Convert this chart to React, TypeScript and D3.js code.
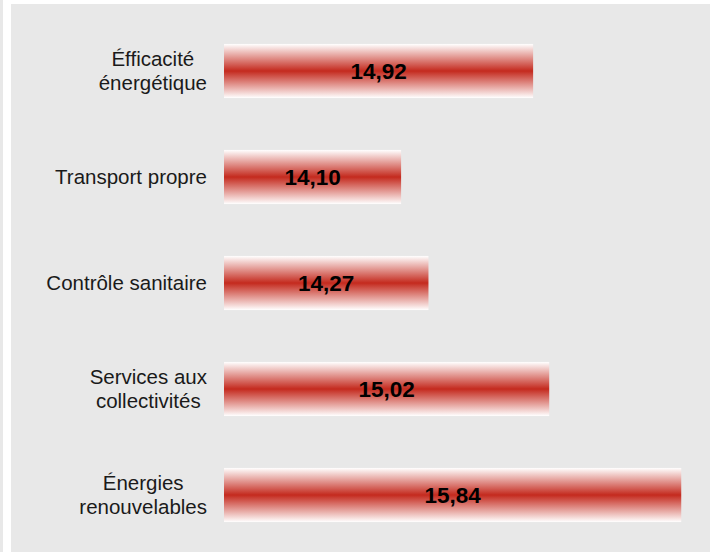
import React from "react"
import * as d3 from "d3"

const categories = [
  "Éfficacité\nénergétique",
  "Transport propre",
  "Contrôle sanitaire",
  "Services aux\ncollectivités",
  "Énergies\nrenouvelables"
]
const values = [14.92, 14.1, 14.27, 15.02, 15.84]

const width = 710
const height = 552
const font = '"Liberation Sans", Arial, sans-serif'

const fmt = (v: number) => v.toFixed(2).replace(".", ",")

export default function App() {
  const x = d3.scaleLinear().domain([13, 16]).range([224, 707])
  const y = d3
    .scaleBand<string>()
    .domain(categories)
    .range([18, 548])
    .paddingInner(0.49)
    .paddingOuter(0.245)

  return (
    <svg
      width={width}
      height={height}
      style={{ position: "absolute", left: 0, top: 0, fontFamily: font }}
    >
      <defs>
        <linearGradient id="barGrad" x1="0" y1="0" x2="0" y2="1">
          <stop offset="0" stopColor="#ffffff" />
          <stop offset="0.5" stopColor="#c42a1e" />
          <stop offset="1" stopColor="#ffffff" />
        </linearGradient>
      </defs>
      <rect x={0} y={0} width={width} height={height} fill="#ffffff" />
      <rect x={0} y={0} width={3} height={height} fill="#e8e8e8" />
      <rect x={11} y={4} width={width - 11} height={height - 4} fill="#e8e8e8" />

      {categories.map((c, i) => {
        const by = y(c) as number
        const bw = y.bandwidth()
        const cy = by + bw / 2
        return (
          <g key={c}>
            <rect x={x(13)} y={by} width={x(values[i]) - x(13)} height={bw} fill="url(#barGrad)" />
            <text
              x={(x(13) + x(values[i])) / 2}
              y={cy}
              dy="0.36em"
              textAnchor="middle"
              fontWeight="bold"
              fontSize={22.5}
              fill="#000"
            >
              {fmt(values[i])}
            </text>
            <CatLabel lines={c.split("\n")} right={207} cy={cy} lh={24} />
          </g>
        )
      })}
    </svg>
  )
}

function CatLabel({ lines, right, cy, lh }: { lines: string[]; right: number; cy: number; lh: number }) {
  const fontSize = 20.5
  // lines are centred inside a block that is right aligned
  const ctx = document.createElement("canvas").getContext("2d")
  if (ctx) ctx.font = `${fontSize}px ${font}`
  const widths = lines.map(l => (ctx ? ctx.measureText(l).width : l.length * 10))
  const center = right - Math.max(...widths) / 2
  const y0 = cy - ((lines.length - 1) * lh) / 2
  return (
    <text fontSize={fontSize} fill="#1a1a1a" textAnchor="middle">
      {lines.map((l, i) => (
        <tspan key={i} x={center} y={y0 + i * lh} dy="0.33em">
          {l}
        </tspan>
      ))}
    </text>
  )
}
